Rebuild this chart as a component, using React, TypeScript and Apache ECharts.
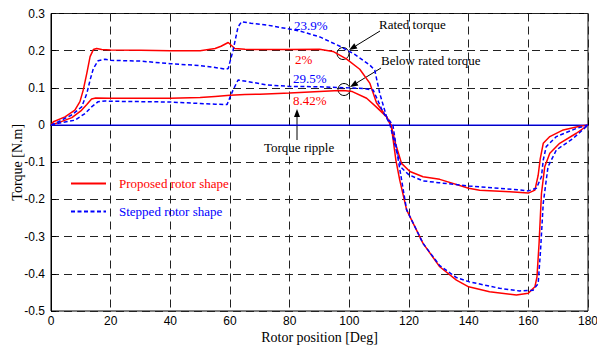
import React, { useEffect, useRef } from "react";
import * as echarts from "echarts";

// Proposed rotor shape, rated torque
const propRatedX = [0, 0.8, 4.7, 8, 9.7, 10.8, 12, 13.1, 14.2, 15.3, 17, 20, 30, 40, 50, 55, 57, 59.4, 61.6, 65, 70, 80, 90, 94.5, 99, 103.5, 106.9, 109.1, 112.5, 114.1, 115.6, 116.9, 119.2, 124.7, 130.3, 135.9, 140, 147, 156, 160, 162.2, 162.9, 163.6, 164.4, 165.5, 167.2, 170.5, 176.1, 180];
const propRatedY = [0, 0.009, 0.022, 0.04, 0.063, 0.094, 0.139, 0.184, 0.203, 0.206, 0.203, 0.202, 0.201, 0.2, 0.2, 0.206, 0.212, 0.222, 0.206, 0.204, 0.203, 0.203, 0.204, 0.198, 0.178, 0.15, 0.112, 0.06, 0.022, -0.005, -0.094, -0.148, -0.228, -0.318, -0.381, -0.417, -0.435, -0.448, -0.457, -0.452, -0.435, -0.408, -0.318, -0.184, -0.112, -0.076, -0.049, -0.022, 0];

// Proposed rotor shape, below rated torque
const propBelowX = [0, 3, 7, 10, 12, 13.6, 15, 20, 30, 40, 50, 55, 60, 65, 70, 80, 90, 95, 98, 101, 105.8, 109, 112.5, 114, 115.5, 117.5, 120.3, 124.7, 130.3, 140, 143.7, 153.8, 160, 162.2, 163.3, 164, 165, 167.2, 171.7, 177.2, 180];
const propBelowY = [0, 0.008, 0.02, 0.038, 0.055, 0.07, 0.073, 0.072, 0.072, 0.072, 0.074, 0.077, 0.08, 0.082, 0.083, 0.086, 0.09, 0.092, 0.093, 0.09, 0.072, 0.049, 0.022, 0, -0.05, -0.103, -0.125, -0.139, -0.146, -0.17, -0.175, -0.179, -0.183, -0.175, -0.135, -0.09, -0.049, -0.031, -0.013, -0.003, 0];

// Stepped rotor shape, rated torque
const stepRatedX = [0, 2.5, 6.9, 10.3, 12, 13.1, 14.2, 15.8, 18.1, 20, 30, 40, 50, 55, 58.5, 59.4, 61, 62.7, 63.9, 67, 72.3, 80, 83.4, 90.1, 96.8, 101.8, 106.9, 108.5, 110.2, 112.5, 114.6, 116.4, 119.2, 124.7, 130.3, 135.9, 140, 150.4, 157, 160, 161.6, 163.3, 164.1, 165, 166.6, 169.4, 175, 180];
const stepRatedY = [0, 0.009, 0.027, 0.049, 0.085, 0.121, 0.152, 0.173, 0.177, 0.174, 0.172, 0.165, 0.16, 0.155, 0.15, 0.152, 0.2, 0.264, 0.278, 0.274, 0.269, 0.258, 0.253, 0.237, 0.212, 0.19, 0.161, 0.148, 0.085, 0.022, 0, -0.094, -0.228, -0.318, -0.378, -0.41, -0.421, -0.439, -0.446, -0.445, -0.444, -0.426, -0.336, -0.21, -0.112, -0.067, -0.036, 0];

// Stepped rotor shape, below rated torque
const stepBelowX = [0, 2.5, 8, 11.4, 13.6, 15.8, 18.1, 20, 30, 40, 50, 55, 59, 61, 62.7, 66.7, 72.3, 80, 90, 100, 105, 108, 111, 113.5, 115.8, 117.5, 120, 124.7, 130, 140, 150, 155, 160, 162.7, 164.4, 165, 166, 169.4, 176.1, 180];
const stepBelowY = [0, 0.005, 0.013, 0.031, 0.049, 0.063, 0.065, 0.064, 0.063, 0.062, 0.058, 0.056, 0.055, 0.094, 0.121, 0.116, 0.108, 0.104, 0.103, 0.1, 0.098, 0.094, 0.04, 0.005, -0.07, -0.115, -0.134, -0.15, -0.155, -0.164, -0.17, -0.173, -0.177, -0.17, -0.139, -0.094, -0.058, -0.031, -0.009, 0];

const zeroX = [0, 180];
const zeroY = [0, 0];

const legendNames = ["Proposed rotor shape", "Stepped rotor shape"];
const annotations = ["23.9%", "2%", "29.5%", "8.42%", "Rated torque", "Below rated torque", "Torque ripple"];

const RED = "#ff0000";
const BLUE = "#0000ff";
const SERIF = "Liberation Serif";
const SANS = "Liberation Sans";

function pairs(xs: number[], ys: number[]) {
  return xs.map((x, i) => [x, ys[i]]);
}

function arrow(x1: number, y1: number, x2: number, y2: number) {
  const dx = x2 - x1;
  const dy = y2 - y1;
  const len = Math.sqrt(dx * dx + dy * dy);
  const ux = dx / len;
  const uy = dy / len;
  const hl = 8;
  const hw = 3;
  const bx = x2 - ux * hl;
  const by = y2 - uy * hl;
  return [
    {
      type: "line",
      shape: { x1, y1, x2: bx, y2: by },
      style: { stroke: "#000", lineWidth: 1 },
    },
    {
      type: "polygon",
      shape: {
        points: [
          [x2, y2],
          [bx - uy * hw, by + ux * hw],
          [bx + uy * hw, by - ux * hw],
        ],
      },
      style: { fill: "#000" },
    },
  ];
}

function txt(x: number, y: number, text: string, color: string) {
  return {
    type: "text",
    x,
    y,
    style: {
      text,
      fill: color,
      font: `13px "${SERIF}"`,
      verticalAlign: "middle",
    },
  };
}

export default function App() {
  const ref = useRef<HTMLDivElement>(null);
  useEffect(() => {
    if (!ref.current) return;
    const chart = echarts.init(ref.current, null, { renderer: "svg" });
    const redLine = { color: RED, width: 1.5, type: "solid" };
    const blueLine = { color: BLUE, width: 1.5, type: [4, 2.5] };
    const gridLine = { show: true, lineStyle: { color: "#222", type: [8, 5], width: 1 } };
    chart.setOption({
      animation: false,
      backgroundColor: "#fff",
      grid: {
        left: 51, right: 9, top: 13.5, bottom: 34,
        show: true, borderColor: "#000", borderWidth: 1,
        containLabel: false, outerBoundsMode: "none",
      },
      legend: {
        orient: "vertical",
        left: 70,
        top: 177,
        padding: 0,
        itemWidth: 35,
        itemHeight: 14,
        itemGap: 15,
        itemStyle: { opacity: 0 },
        textStyle: { fontFamily: SERIF, fontSize: 13, padding: [0, 0, 0, 8] },
        data: [
          { name: legendNames[0], textStyle: { color: RED } },
          { name: legendNames[1], textStyle: { color: BLUE } },
        ],
      },
      xAxis: {
        type: "value",
        min: 0,
        max: 180,
        interval: 20,
        name: "Rotor position [Deg]",
        nameLocation: "middle",
        nameGap: 19,
        nameMoveOverlap: false,
        nameTextStyle: { fontFamily: SERIF, fontSize: 14, color: "#000" },
        axisLine: { show: true, lineStyle: { color: "#000" } },
        axisTick: { show: true, inside: true, length: 5, lineStyle: { color: "#000" } },
        axisLabel: { fontFamily: SANS, fontSize: 12, color: "#000", margin: 4 },
        splitLine: gridLine,
      },
      yAxis: {
        type: "value",
        min: -0.5,
        max: 0.3,
        interval: 0.1,
        name: "Torque [N.m]",
        nameLocation: "middle",
        nameGap: 27,
        nameMoveOverlap: false,
        nameTextStyle: { fontFamily: SERIF, fontSize: 14, color: "#000" },
        axisLine: { show: true, lineStyle: { color: "#000" } },
        axisTick: { show: true, inside: true, length: 5, lineStyle: { color: "#000" } },
        axisLabel: { fontFamily: SANS, fontSize: 12, color: "#000", margin: 6 },
        splitLine: gridLine,
      },
      series: [
        { name: "zero", type: "line", data: pairs(zeroX, zeroY), symbol: "none", lineStyle: { color: BLUE, width: 1.2 }, itemStyle: { color: BLUE }, silent: true, z: 1 },
        { name: legendNames[0], type: "line", data: pairs(propRatedX, propRatedY), symbol: "none", lineStyle: redLine, itemStyle: { color: RED }, z: 3 },
        { name: legendNames[0], type: "line", data: pairs(propBelowX, propBelowY), symbol: "none", lineStyle: redLine, itemStyle: { color: RED }, z: 3 },
        { name: legendNames[1], type: "line", data: pairs(stepRatedX, stepRatedY), symbol: "none", lineStyle: blueLine, itemStyle: { color: BLUE }, z: 4 },
        { name: legendNames[1], type: "line", data: pairs(stepBelowX, stepBelowY), symbol: "none", lineStyle: blueLine, itemStyle: { color: BLUE }, z: 4 },
      ],
      graphic: [
        txt(294, 25, annotations[0], BLUE),
        txt(295, 59, annotations[1], RED),
        txt(293, 78, annotations[2], BLUE),
        txt(293, 100, annotations[3], RED),
        txt(379, 24, annotations[4], "#000"),
        txt(381, 60, annotations[5], "#000"),
        txt(264, 147, annotations[6], "#000"),
        { type: "circle", shape: { cx: 343, cy: 53.5, r: 6 }, style: { fill: "none", stroke: "#000", lineWidth: 1 } },
        { type: "circle", shape: { cx: 344, cy: 89.5, r: 6 }, style: { fill: "none", stroke: "#000", lineWidth: 1 } },
        ...arrow(380, 31, 349, 50),
        ...arrow(381, 68, 350, 87),
        ...arrow(297, 140, 297, 109),
      ],
    });
    return () => chart.dispose();
  }, []);
  return <div ref={ref} style={{ position: "fixed", left: 0, top: 0, width: 597, height: 345 }} />;
}
